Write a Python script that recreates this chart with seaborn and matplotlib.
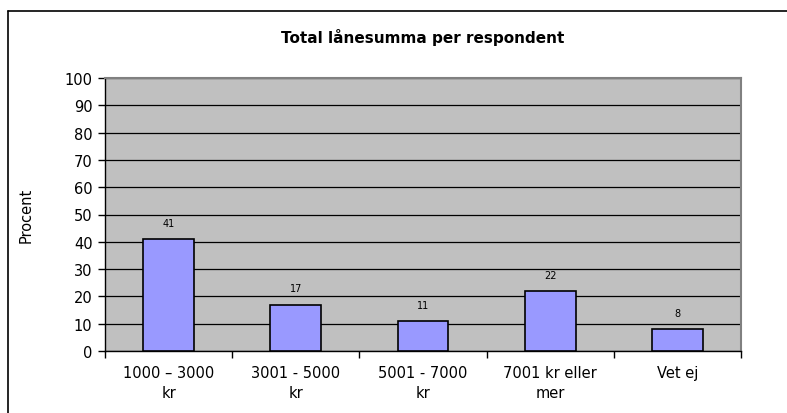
import matplotlib
matplotlib.use("Agg")
import matplotlib.pyplot as plt
import seaborn as sns
import pandas as pd
from matplotlib.lines import Line2D

categories = ["1000 – 3000\nkr", "3001 - 5000\nkr", "5001 - 7000\nkr", "7001 kr eller\nmer", "Vet ej"]
values = [41, 17, 11, 22, 8]
yticks = list(range(0, 101, 10))
title = "Total lånesumma per respondent"
ylabel = "Procent"

sns.set_theme(style="white")
plt.rcParams['font.family'] = ['DejaVu Sans']
plt.rcParams['text.color'] = 'black'
plt.rcParams['axes.labelcolor'] = 'black'
plt.rcParams['xtick.color'] = 'black'
plt.rcParams['ytick.color'] = 'black'

df = pd.DataFrame({"cat": categories, "val": values})

fig = plt.figure(figsize=(7.87, 4.14), dpi=100)
ax = fig.add_axes([105/787, 1-352/414, (741-105)/787, (352-79)/414])
ax.set_facecolor("#c0c0c0")

sns.barplot(data=df, x="cat", y="val", color="#9999ff", saturation=1,
            edgecolor="black", linewidth=1.2, width=0.4, ax=ax, zorder=3)

ax.set_ylim(0, 100)
ax.set_xlim(-0.5, len(categories) - 0.5)
ax.set_yticks(yticks)
ax.set_yticklabels([str(t) for t in yticks], fontsize=10.5)
ax.yaxis.grid(True, color="black", linewidth=0.9, zorder=0)
ax.set_axisbelow(True)
ax.set_xlabel("")
ax.set_ylabel(ylabel, fontsize=10.5, labelpad=22)
ax.tick_params(axis="y", direction="out", length=5, width=1, color="black", pad=4, left=True)
ax.tick_params(axis="x", which="major", length=0, pad=10, labelsize=10.5)
ax.set_xticks([i + 0.5 for i in range(-1, len(categories))], minor=True)
ax.tick_params(axis="x", which="minor", direction="out", length=5, width=1, color="black", bottom=True)
for lbl in ax.get_xticklabels():
    lbl.set_linespacing(1.4)

for s in ["left", "bottom"]:
    ax.spines[s].set_color("black")
    ax.spines[s].set_linewidth(1)
for s in ["top", "right"]:
    ax.spines[s].set_color("#808080")
    ax.spines[s].set_linewidth(1.5)

for c in ax.containers:
    ax.bar_label(c, labels=[str(v) for v in values], padding=8, fontsize=7, color="black")

fig.text((105+741)/2/787, 1-38/414, title, ha="center", va="center",
         fontsize=11, fontweight="bold", color="black")

# chart-area border
bx = 8/787
by = 1-12/414
fig.add_artist(Line2D([bx, 1.01], [by, by], transform=fig.transFigure, color="black", linewidth=1.2))
fig.add_artist(Line2D([bx, bx], [-0.01, by], transform=fig.transFigure, color="black", linewidth=1.2))

fig.savefig("out.png", dpi=100)
